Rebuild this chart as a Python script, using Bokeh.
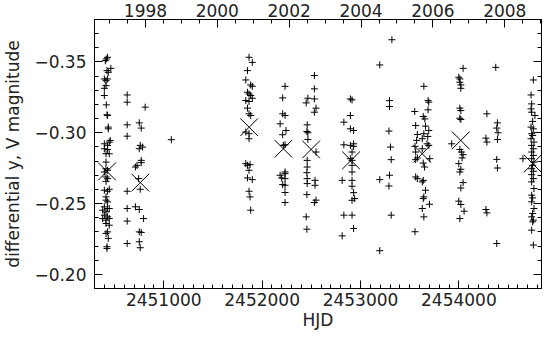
from bokeh.plotting import figure
from bokeh.models import Range1d, LinearAxis, FixedTicker, CustomJSTickFormatter
from bokeh.embed import file_html
from bokeh.resources import INLINE

# ---- data ----
hjd = [
    # 1996/97 season
    2450429, 2450416, 2450406, 2450462, 2450423, 2450436, 2450396, 2450429, 2450413, 2450413,
    2450396, 2450396, 2450416, 2450423, 2450429, 2450436, 2450436, 2450456, 2450446, 2450396,
    2450429, 2450396, 2450429, 2450413, 2450446, 2450413, 2450413, 2450429, 2450396, 2450413,
    2450429, 2450413, 2450396, 2450429, 2450446, 2450413, 2450413, 2450429, 2450396, 2450429,
    2450446, 2450379, 2450413, 2450396, 2450429, 2450446, 2450379, 2450413, 2450413, 2450446,
    2450429, 2450413, 2450436, 2450423, 2450423,
    # 1997 season
    2450628, 2450628, 2450811, 2450628, 2450751, 2450771, 2450628, 2450761, 2450785, 2450751,
    2450771, 2450771, 2450728, 2450712, 2450745, 2450761, 2450628, 2450712, 2450628, 2450751,
    2450795, 2450628, 2450751, 2450771, 2450751, 2450628, 2450761,
    # 1998
    2451077,
    # 2000 season
    2451867, 2451900, 2451851, 2451834, 2451884, 2451900, 2451851, 2451867, 2451884, 2451900,
    2451834, 2451867, 2451851, 2451867, 2451884, 2451834, 2451867, 2451867, 2451834, 2451851,
    2451877, 2451867, 2451851, 2451900, 2451867, 2451877, 2451884,
    # 2001 season
    2452233, 2452209, 2452209, 2452233, 2452183, 2452243, 2452209, 2452233, 2452216, 2452183,
    2452233, 2452233, 2452199, 2452233, 2452209, 2452233, 2452233, 2452233,
    # 2002 season
    2452531, 2452531, 2452465, 2452448, 2452531, 2452548, 2452531, 2452458, 2452455, 2452465,
    2452465, 2452548, 2452458, 2452458, 2452455, 2452458, 2452458, 2452538, 2452538, 2452455,
    2452548, 2452531, 2452448, 2452455,
    # 2003 season
    2452897, 2452914, 2452897, 2452831, 2452897, 2452930, 2452831, 2452897, 2452930, 2452930,
    2452914, 2452897, 2452914, 2452914, 2452914, 2452814, 2452914, 2452914, 2452930, 2452914,
    2452940, 2452831, 2452914, 2452930, 2452814,
    # 2004 season
    2453319, 2453196, 2453295, 2453295, 2453289, 2453305, 2453312, 2453295, 2453196, 2453289,
    2453312, 2453196,
    # 2005 season
    2453644, 2453687, 2453694, 2453687, 2453551, 2453638, 2453654, 2453561, 2453661, 2453694,
    2453644, 2453578, 2453684, 2453628, 2453571, 2453677, 2453694, 2453554, 2453628, 2453561,
    2453578, 2453561, 2453704, 2453638, 2453651, 2453561, 2453578, 2453638, 2453628, 2453661,
    2453644, 2453638, 2453701, 2453628, 2453644, 2453554,
    # 2006 season
    2454043, 2453999, 2454010, 2454010, 2454020, 2454020, 2454010, 2454020, 2454010, 2454020,
    2453927, 2454010, 2454026, 2454043, 2454033, 2453999, 2454020, 2454010, 2454043, 2454020,
    2453999, 2454020, 2454053, 2454010,
    # 2007 season
    2454375, 2454285, 2454392, 2454385, 2454398, 2454275, 2454285, 2454392, 2454385, 2454392,
    2454275, 2454285, 2454385,
    # 2008 season
    2454757, 2454734, 2454740, 2454734, 2454740, 2454773, 2454750, 2454734, 2454757, 2454740,
    2454750, 2454734, 2454763, 2454740, 2454757, 2454740, 2454757, 2454651, 2454740, 2454763,
    2454750, 2454740, 2454757, 2454740, 2454757, 2454740, 2454763, 2454740, 2454750, 2454740,
    2454763, 2454750, 2454740, 2454757, 2454750, 2454740, 2454757,
]

dmag = [
    # 1996/97 season
    -0.3533, -0.3521, -0.3509, -0.3455, -0.3439, -0.3427, -0.3380, -0.3380, -0.3368, -0.3333,
    -0.3314, -0.3263, -0.3197, -0.3127, -0.3122, -0.3040, -0.3028, -0.2946, -0.2934, -0.2922,
    -0.2911, -0.2887, -0.2882, -0.2852, -0.2852, -0.2793, -0.2746, -0.2735, -0.2723, -0.2688,
    -0.2676, -0.2657, -0.2594, -0.2587, -0.2601, -0.2547, -0.2524, -0.2512, -0.2477, -0.2465,
    -0.2465, -0.2453, -0.2441, -0.2418, -0.2406, -0.2394, -0.2394, -0.2383, -0.2359, -0.2347,
    -0.2300, -0.2289, -0.2254, -0.2195, -0.2183,
    # 1997 season
    -0.3267, -0.3216, -0.3181, -0.3056, -0.3070, -0.3033, -0.2976, -0.2911, -0.2899, -0.2887,
    -0.2805, -0.2789, -0.2770, -0.2758, -0.2676, -0.2601, -0.2587, -0.2477, -0.2465, -0.2458,
    -0.2394, -0.2376, -0.2300, -0.2296, -0.2230, -0.2218, -0.2188,
    # 1998
    -0.2951,
    # 2000 season
    -0.3533, -0.3497, -0.3439, -0.3373, -0.3338, -0.3328, -0.3286, -0.3274, -0.3263, -0.3244,
    -0.3228, -0.3221, -0.3174, -0.3134, -0.3122, -0.3005, -0.2993, -0.2958, -0.2782, -0.2770,
    -0.2775, -0.2735, -0.2681, -0.2669, -0.2587, -0.2547, -0.2453,
    # 2001 season
    -0.3328, -0.3246, -0.3134, -0.3122, -0.3063, -0.3016, -0.2986, -0.2915, -0.2911, -0.2700,
    -0.2723, -0.2711, -0.2681, -0.2676, -0.2634, -0.2629, -0.2578, -0.2507,
    # 2002 season
    -0.3404, -0.3310, -0.3244, -0.3211, -0.3239, -0.3174, -0.3145, -0.3056, -0.3009, -0.3000,
    -0.2953, -0.2864, -0.2805, -0.2758, -0.2718, -0.2676, -0.2641, -0.2664, -0.2629, -0.2563,
    -0.2524, -0.2507, -0.2406, -0.2319,
    # 2003 season
    -0.3239, -0.3232, -0.3122, -0.3075, -0.3028, -0.3016, -0.2915, -0.2911, -0.2922, -0.2904,
    -0.2864, -0.2817, -0.2805, -0.2770, -0.2723, -0.2664, -0.2664, -0.2622, -0.2577, -0.2523,
    -0.2535, -0.2418, -0.2418, -0.2324, -0.2272,
    # 2004 season
    -0.3657, -0.3479, -0.3227, -0.3185, -0.3012, -0.2899, -0.2810, -0.2700, -0.2669, -0.2624,
    -0.2418, -0.2167,
    # 2005 season
    -0.3328, -0.3227, -0.3216, -0.3162, -0.3150, -0.3115, -0.3098, -0.3051, -0.3047, -0.3016,
    -0.2993, -0.2988, -0.2974, -0.2958, -0.2946, -0.2922, -0.2911, -0.2904, -0.2887, -0.2864,
    -0.2822, -0.2810, -0.2817, -0.2786, -0.2758, -0.2688, -0.2676, -0.2664, -0.2653, -0.2594,
    -0.2547, -0.2535, -0.2495, -0.2465, -0.2406, -0.2301,
    # 2006 season
    -0.3455, -0.3392, -0.3380, -0.3357, -0.3338, -0.3314, -0.3174, -0.3157, -0.3103, -0.3094,
    -0.2922, -0.2882, -0.2864, -0.2845, -0.2822, -0.2782, -0.2742, -0.2723, -0.2648, -0.2610,
    -0.2517, -0.2493, -0.2446, -0.2394,
    # 2007 season
    -0.3462, -0.3134, -0.3070, -0.3033, -0.3000, -0.2962, -0.2934, -0.2953, -0.2812, -0.2751,
    -0.2458, -0.2434, -0.2218,
    # 2008 season
    -0.3373, -0.3267, -0.3204, -0.3169, -0.3145, -0.3122, -0.3080, -0.3040, -0.3028, -0.2993,
    -0.2981, -0.2958, -0.2934, -0.2911, -0.2887, -0.2864, -0.2840, -0.2817, -0.2817, -0.2793,
    -0.2770, -0.2746, -0.2728, -0.2704, -0.2676, -0.2653, -0.2606, -0.2559, -0.2540, -0.2512,
    -0.2465, -0.2430, -0.2406, -0.2383, -0.2371, -0.2312, -0.2207,
]

# seasonal means (big crosses)
mean_hjd = [2450423, 2450762, 2451868, 2452216, 2452498, 2452904, 2453627, 2454019, 2454750]
mean_dmag = [-0.2727, -0.2648, -0.3039, -0.2887, -0.2882, -0.2805, -0.2852, -0.2946, -0.2782]

hjd_ticks = [2451000, 2452000, 2453000, 2454000]
year_ticks = [1998, 2000, 2002, 2004, 2006, 2008]
mag_ticks = [-0.35, -0.30, -0.25, -0.20]

x_label = "HJD"
y_label = "differential y, V magnitude"

# ---- ranges ----
X_START, X_END = 2450296, 2454840
Y_BOTTOM, Y_TOP = -0.19, -0.38
JD_2000 = 2451544.5
YEAR_DAYS = 365.25

FONT = "DejaVu Sans"
FSIZE = "17px"
TCOLOR = "#222222"

p = figure(width=543, height=332,
           x_range=Range1d(X_START, X_END),
           y_range=Range1d(Y_BOTTOM, Y_TOP),
           output_backend="svg", toolbar_location=None,
           min_border_left=90, min_border_right=2,
           min_border_top=14, min_border_bottom=40)

p.extra_x_ranges = {"year": Range1d(2000 + (X_START - JD_2000) / YEAR_DAYS,
                                    2000 + (X_END - JD_2000) / YEAR_DAYS)}

p.grid.visible = False
p.outline_line_color = "black"
p.background_fill_color = "white"
p.border_fill_color = "white"


def style(ax):
    ax.axis_line_color = "black"
    ax.major_tick_line_color = "black"
    ax.minor_tick_line_color = "black"
    ax.major_tick_in = 8
    ax.major_tick_out = 0
    ax.minor_tick_in = 4
    ax.minor_tick_out = 0
    ax.major_label_text_font = FONT
    ax.major_label_text_font_size = FSIZE
    ax.major_label_text_color = TCOLOR
    ax.axis_label_text_font = FONT
    ax.axis_label_text_font_size = FSIZE
    ax.axis_label_text_color = TCOLOR
    ax.axis_label_text_font_style = "normal"


xt = FixedTicker(ticks=hjd_ticks, minor_ticks=list(range(2450300, 2454900, 100)))
yt = FixedTicker(ticks=mag_ticks, minor_ticks=[round(-0.38 + 0.01 * i, 2) for i in range(20)])
yrt = FixedTicker(ticks=year_ticks, minor_ticks=[1997 + 0.5 * i for i in range(25)])

xa = p.xaxis[0]
xa.ticker = xt
xa.formatter = CustomJSTickFormatter(code="return tick.toFixed(0);")
xa.axis_label = x_label
xa.major_label_standoff = 4
xa.axis_label_standoff = 1
style(xa)

ya = p.yaxis[0]
ya.ticker = yt
ya.formatter = CustomJSTickFormatter(code="return (tick < 0 ? '\u2212' : '') + Math.abs(tick).toFixed(2);")
ya.axis_label = y_label
ya.major_label_standoff = 8
ya.axis_label_standoff = 8
style(ya)

top = LinearAxis(x_range_name="year", ticker=yrt)
style(top)
top.formatter = CustomJSTickFormatter(code="return tick.toFixed(0);")
top.major_label_standoff = 3
p.add_layout(top, "above")

right = LinearAxis(ticker=yt)
style(right)
right.formatter = CustomJSTickFormatter(code="return '';")
right.major_label_text_font_size = "0px"
right.major_label_standoff = 0
p.add_layout(right, "right")

p.scatter(hjd, dmag, marker="cross", size=7, line_color="black", line_width=1)
p.scatter(mean_hjd, mean_dmag, marker="x", size=25, line_color="black", line_width=1)

open("out.html", "w").write(file_html(p, INLINE))
